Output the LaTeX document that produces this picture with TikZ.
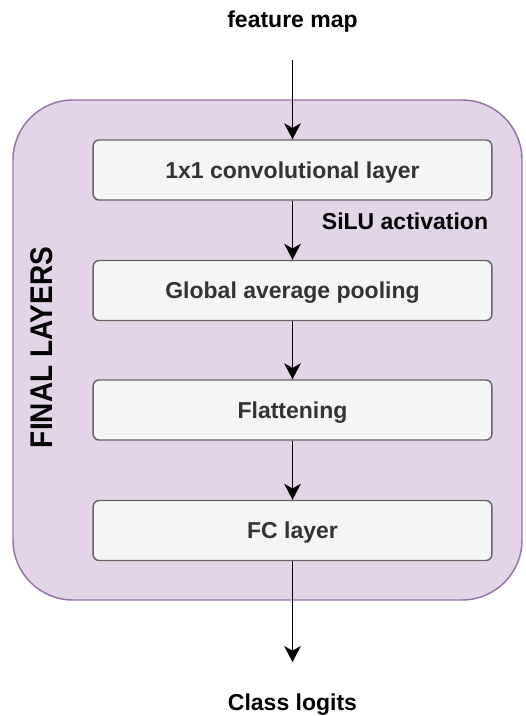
\documentclass[tikz,border=0pt]{standalone}
\usepackage{fontspec}
\usepackage{graphicx}
\setmainfont{Liberation Sans}
\usetikzlibrary{arrows.meta}
\definecolor{groupfill}{HTML}{E1D5E7}
\definecolor{groupline}{HTML}{9673A6}
\definecolor{boxfill}{HTML}{F5F5F5}
\definecolor{boxline}{HTML}{666666}
\definecolor{boxtext}{HTML}{333333}
\tikzset{
  layerbox/.style={draw=boxline, fill=boxfill, line width=1.1pt,
    rounded corners=4.5pt, minimum width=299pt, minimum height=45pt,
    inner sep=0pt, text=boxtext, font=\fontsize{17.25}{20}\selectfont\bfseries,
    text height=12.4pt, text depth=0pt},
  outerlabel/.style={font=\fontsize{17.25}{20}\selectfont\bfseries, inner sep=0pt, anchor=base},
  flow/.style={draw=black, line width=1.1pt,
    -{Stealth[length=12pt, width=12.5pt, inset=3.5pt]}}
}
\begin{document}
\begin{tikzpicture}[x=0.75pt, y=-0.75pt]
  \useasboundingbox (0,0) rectangle (525,716);
  % group container
  \node[draw=groupline, fill=groupfill, line width=1.1pt, rounded corners=45pt,
        minimum width=381.75pt, minimum height=375pt, inner sep=0pt] (group) at (267.5,350) {};
  \node[rotate=90, inner sep=0pt, font=\fontsize{21}{24}\selectfont\bfseries] (grouptitle) at (41.5,347.5)
    {\scalebox{1}[1.12]{FINAL LAYERS}};
  % layers
  \node[layerbox] (conv) at (292.5,170) {1x1 convolutional layer};
  \node[layerbox] (gap)  at (292.5,290.5) {Global average pooling};
  \node[layerbox] (flat) at (292.5,410) {Flattening};
  \node[layerbox] (fc)   at (292.5,530.5) {FC layer};
  % input and output labels
  \node[outerlabel] (input) at (292.5,28) {feature map};
  \node[outerlabel] (output) at (292.5,710) {Class logits};
  \coordinate (instart) at (292.5,60);
  \coordinate (outend) at (292.5,662);
  \node[font=\fontsize{17.25}{20}\selectfont\bfseries, inner sep=0pt, text height=12.4pt, text depth=0pt] (act) at (405,221) {SiLU activation};
  % connectors
  \draw[flow] (instart) -- (conv.north);
  \draw[flow] (conv.south) -- (gap.north);
  \draw[flow] (gap.south) -- (flat.north);
  \draw[flow] (flat.south) -- (fc.north);
  \draw[flow] (fc.south) -- (outend);
\end{tikzpicture}
\end{document}
